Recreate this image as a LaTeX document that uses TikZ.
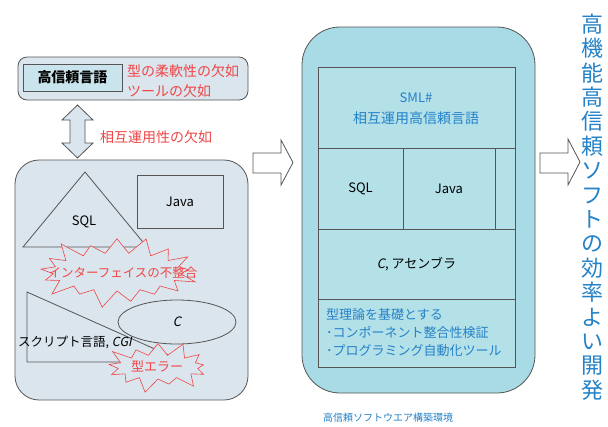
\documentclass[tikz,border=0pt]{standalone}
\usepackage{fontspec}
\setmainfont{Noto Sans CJK JP}
\newfontfamily\slantfont[FakeSlant=0.2]{Noto Sans CJK JP}
\usetikzlibrary{shapes.symbols,shapes.geometric}
\definecolor{leftfill}{HTML}{DAE5EE}
\definecolor{innerfill}{HTML}{C9E4EC}
\definecolor{midfill}{HTML}{A8DBE5}
\definecolor{cellfill}{HTML}{B4E0E8}
\definecolor{redtxt}{HTML}{F04646}
\definecolor{bluetxt}{HTML}{2482C8}
\definecolor{edge}{HTML}{555555}
\begin{document}
\begin{tikzpicture}[x=1pt,y=-1pt,
  outline/.style={draw=edge, line width=0.8pt},
  redlbl/.style={text=redtxt, font=\fontsize{14}{16}\selectfont, inner sep=0pt},
  bluelbl/.style={text=bluetxt, inner sep=0pt},
  blacklbl/.style={text=black, font=\fontsize{13}{15}\selectfont, inner sep=0pt},
  burst/.style={starburst, draw=redtxt, line width=0.6pt, fill=leftfill, inner sep=0pt},
  cell/.style={outline, fill=cellfill},
  hollowarrow/.style={outline, fill=white}
]
\useasboundingbox (0,0) rectangle (608,426);
\fill[white] (0,0) rectangle (608,426);

% ---------- left column ----------
\draw[outline, fill=leftfill, rounded corners=9pt] (18,57) rectangle (248,100);
\node[outline, fill=innerfill, minimum width=99pt, minimum height=27pt, font=\fontsize{14}{16}\selectfont\bfseries] (hl) at (72.5,77.5) {高信頼言語};
\node[redlbl, anchor=west] (flex) at (127,71) {型の柔軟性の欠如};
\node[redlbl, anchor=west] (tool) at (127,91) {ツールの欠如};

\draw[outline, fill=leftfill] (77.5,105) -- (93,120) -- (85,120) -- (85,143) -- (93,143) -- (77.5,158)
  -- (62,143) -- (70,143) -- (70,120) -- (62,120) -- cycle;
\node[redlbl, anchor=west] (inter) at (100,137) {相互運用性の欠如};

\draw[outline, fill=leftfill, rounded corners=24pt] (15,160) rectangle (248,400);
\draw[outline, fill=leftfill] (23,247) -- (85,172) -- (147,247) -- cycle;
\node[blacklbl] (sqlL) at (84,222) {SQL};
\node[outline, fill=leftfill, minimum width=86pt, minimum height=53pt, font=\fontsize{13}{15}\selectfont] (javaL) at (180,201.5) {Java};

\draw[outline, fill=leftfill] (27,292) -- (27,362) -- (184,362) -- cycle;
\node[ellipse, outline, fill=leftfill, minimum width=118pt, minimum height=44pt, inner sep=0pt, font=\fontsize{13}{15}\slantfont] (cL) at (177,322) {C};

\node[burst, starburst points=17, starburst point height=20pt, minimum width=168pt, minimum height=78pt] (burst1) at (117,272) {};
\node[redlbl, font=\fontsize{12.5}{14}\selectfont] (mismatch) at (123,273) {インターフェイスの不整合};

\node[burst, starburst points=13, starburst point height=16pt, minimum width=112pt, minimum height=56pt] (burst2) at (158,367) {};
\node[redlbl, font=\fontsize{13}{15}\selectfont] (typeerr) at (157,366) {型エラー};

\node[blacklbl, anchor=west, font=\fontsize{12.5}{14}\selectfont] (script) at (18,342) {スクリプト言語, {\slantfont CGI}};

% ---------- arrows ----------
\draw[hollowarrow] (253,153) -- (281,153) -- (281,140) -- (293,162.5) -- (281,185) -- (281,173) -- (253,173) -- cycle;
\draw[hollowarrow] (540,153) -- (568,153) -- (568,139) -- (580,162) -- (568,185) -- (568,173) -- (540,173) -- cycle;

% ---------- middle column ----------
\draw[outline, fill=midfill, rounded corners=38pt] (302,27) rectangle (535,393);
\draw[cell] (318,67) rectangle (515,367);
\node[cell, minimum width=197pt, minimum height=81pt, inner sep=0pt] (sml) at (416.5,107.5) {};
\node[bluelbl, font=\fontsize{13}{15}\selectfont] (smlname) at (416,98) {SML\#};
\node[bluelbl, font=\fontsize{14}{16}\selectfont] (smldesc) at (416,118) {相互運用高信頼言語};
\node[cell, minimum width=85pt, minimum height=81pt, font=\fontsize{13}{15}\selectfont] (sqlM) at (360.5,188.5) {SQL};
\node[cell, minimum width=92pt, minimum height=81pt, font=\fontsize{13}{15}\selectfont] (javaM) at (449,188.5) {Java};
\node[cell, minimum width=197pt, minimum height=70pt, font=\fontsize{13}{15}\selectfont] (asm) at (416.5,264) {{\slantfont C}, アセンブラ};
\node[cell, minimum width=197pt, minimum height=68pt] (theory) at (416.5,333) {};
\node[bluelbl, anchor=north west, align=left, font=\fontsize{13}{18}\selectfont] (theorytxt) at (326,308)
  {型理論を基礎とする\\･コンポーネント整合性検証\\･プログラミング自動化ツール};
\node[bluelbl, font=\fontsize{10}{12}\selectfont] (caption) at (388,418) {高信頼ソフトウエア構築環境};

% ---------- right column ----------
\node[bluelbl, align=center, font=\fontsize{22}{24.4}\selectfont] (goal) at (592,207)
  {高\\機\\能\\高\\信\\頼\\ソ\\フ\\ト\\の\\効\\率\\よ\\い\\開\\発};
\end{tikzpicture}
\end{document}
